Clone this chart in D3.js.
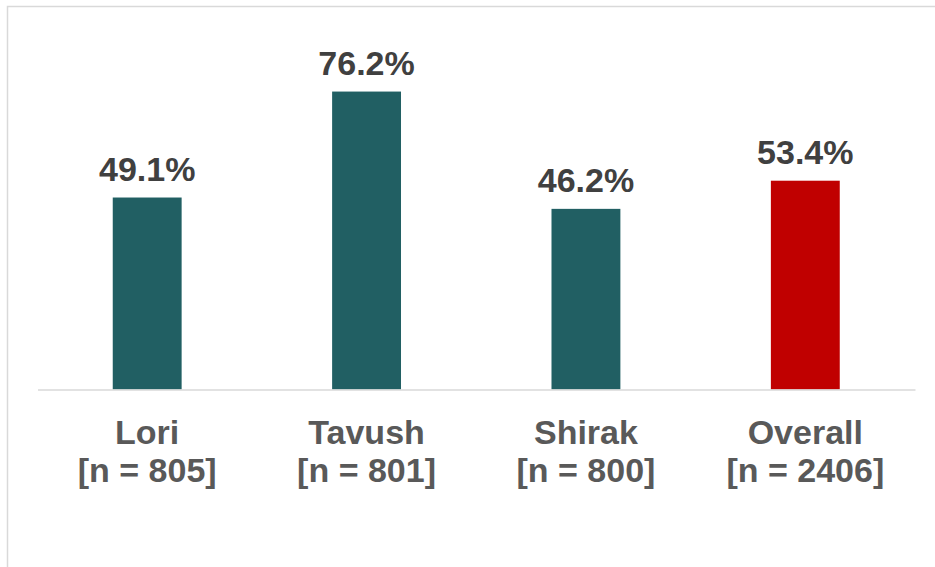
<!DOCTYPE html>
<html>
<head>
<meta charset="utf-8">
<script src="https://cdn.jsdelivr.net/npm/d3@7"></script>
<style>
  html, body { margin: 0; padding: 0; background: #fff; }
  svg { display: block; }
</style>
</head>
<body>
<svg id="chart" width="935" height="567"></svg>
<script>
const categories = ["Lori", "Tavush", "Shirak", "Overall"];
const sampleSizes = ["[n = 805]", "[n = 801]", "[n = 800]", "[n = 2406]"];
const values = [49.1, 76.2, 46.2, 53.4];
const barColors = ["#215F63", "#215F63", "#215F63", "#C00000"];

const svg = d3.select("#chart");
const baseY = 389.5;

// chart border
svg.append("rect")
  .attr("x", 7.5).attr("y", 6.5)
  .attr("width", 940).attr("height", 580)
  .attr("fill", "none").attr("stroke", "#D9D9D9").attr("stroke-width", 1.5);

const x = d3.scaleBand()
  .domain(categories)
  .range([37.5, 915])
  .paddingInner(0.686)
  .paddingOuter(0.343);

const y = d3.scaleLinear()
  .domain([0, 80])
  .range([baseY, baseY - 80 * 3.91]);

const data = categories.map((c, i) => ({ c, v: values[i], n: sampleSizes[i], color: barColors[i] }));

svg.selectAll("rect.bar")
  .data(data)
  .join("rect")
  .attr("class", "bar")
  .attr("x", d => x(d.c))
  .attr("width", x.bandwidth())
  .attr("y", d => y(d.v))
  .attr("height", d => y(0) - y(d.v))
  .attr("fill", d => d.color);

// axis baseline
const xAxis = d3.axisBottom(x).tickSize(0).tickFormat("");
const axisG = svg.append("g").attr("transform", `translate(0,${baseY})`).call(xAxis);
axisG.select(".domain").attr("stroke", "#D9D9D9").attr("stroke-width", 1.5);

// value labels
svg.selectAll("text.val")
  .data(data)
  .join("text")
  .attr("class", "val")
  .attr("x", d => x(d.c) + x.bandwidth() / 2)
  .attr("y", d => y(d.v) - 16.5)
  .attr("text-anchor", "middle")
  .attr("font-family", "Liberation Sans, Arial, sans-serif")
  .attr("font-weight", "bold")
  .attr("font-size", "34px")
  .attr("fill", "#404040")
  .text(d => d.v.toFixed(1) + "%");

// category labels
const cat = svg.selectAll("text.cat")
  .data(data)
  .join("text")
  .attr("class", "cat")
  .attr("text-anchor", "middle")
  .attr("font-family", "Liberation Sans, Arial, sans-serif")
  .attr("font-weight", "bold")
  .attr("font-size", "34px")
  .attr("fill", "#595959");
cat.append("tspan")
  .attr("x", d => x(d.c) + x.bandwidth() / 2)
  .attr("y", 444)
  .text(d => d.c);
cat.append("tspan")
  .attr("x", d => x(d.c) + x.bandwidth() / 2)
  .attr("y", 482)
  .text(d => d.n);
</script>
</body>
</html>
